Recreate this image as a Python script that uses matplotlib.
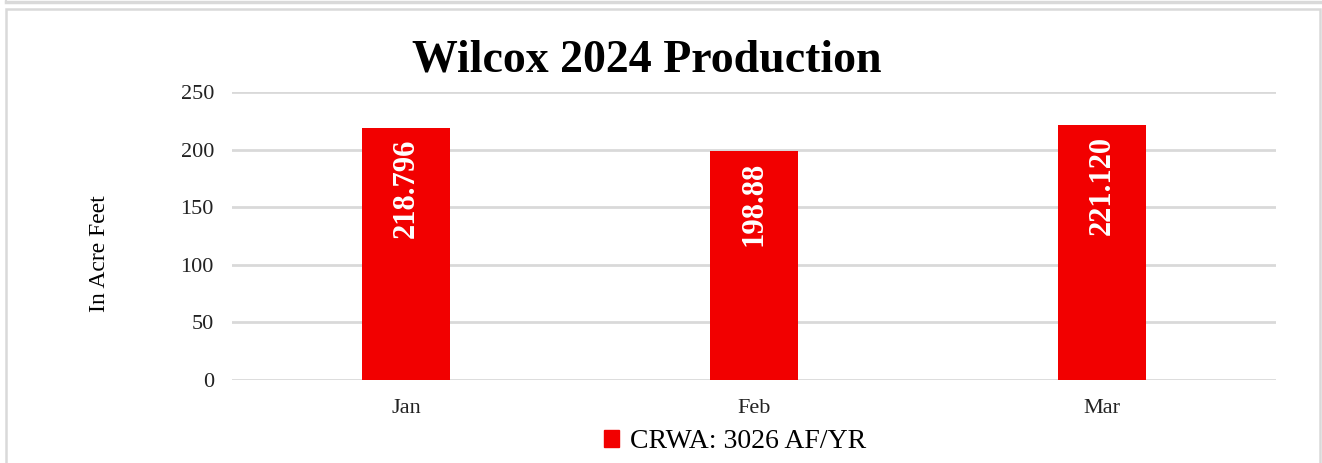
import matplotlib
matplotlib.use("Agg")
import matplotlib.pyplot as plt
from matplotlib.lines import Line2D
from matplotlib.patches import Rectangle

categories = ["Jan", "Feb", "Mar"]
values = [218.796, 198.88, 221.120]
labels = ["218.796", "198.88", "221.120"]
yticks = [0, 50, 100, 150, 200, 250]
title = "Wilcox 2024 Production"
ylabel = "In Acre Feet"
legend_label = "CRWA: 3026 AF/YR"

W, H = 1322, 463
fig = plt.figure(figsize=(W / 100, H / 100), dpi=100)
plt.rcParams['font.family'] = ['Liberation Serif', 'DejaVu Serif']

red = "#F20000"
grid = "#D9D9D9"

# frame lines
fig.add_artist(Line2D([6 / W, 1], [1 - 2 / H, 1 - 2 / H], color=grid, lw=2.5, transform=fig.transFigure))
fig.add_artist(Line2D([6 / W, 6 / W], [1, 1 - 2 / H], color=grid, lw=1.5, transform=fig.transFigure))
fig.add_artist(Rectangle((6 / W, -0.01), (1320 - 6) / W, (1 - 9 / H) + 0.01, fill=False,
                         edgecolor=grid, lw=1.8, transform=fig.transFigure))

ax = fig.add_axes([232 / W, 1 - 380 / H, (1276 - 232) / W, (380 - 92) / H])
x = range(len(categories))
bars = ax.bar(x, values, width=0.253, color=red, zorder=3)
ax.set_xlim(-0.5, 2.5)
ax.set_ylim(0, 250)
ax.set_yticks(yticks)
ax.yaxis.grid(True, color=grid, lw=2, zorder=0)
ax.set_axisbelow(True)
for s in ax.spines.values():
    s.set_visible(False)
ax.tick_params(axis='both', length=0, labelsize=16, colors='#222222')
ax.tick_params(axis='y', pad=13)
ax.tick_params(axis='x', pad=14)
ax.set_xticks(list(x))
ax.set_xticklabels(categories)
ax.set_ylabel(ylabel, fontsize=17)
ax.yaxis.set_label_coords(-0.117, 0.44)

for b, lab in zip(bars, labels):
    ax.annotate(lab, (b.get_x() + b.get_width() / 2, b.get_height()),
                xytext=(0, -8), textcoords='offset points',
                rotation=90, ha='center', va='top', color='white',
                fontsize=22, fontweight='bold', zorder=4)

fig.text(647 / W, 1 - 61 / H, title, ha='center', va='center', fontsize=33, fontweight='bold')

leg = fig.legend(handles=[Rectangle((0, 0), 1, 1, color=red)], labels=[legend_label],
                 loc='center', bbox_to_anchor=(735 / W, 1 - 442 / H), frameon=False,
                 fontsize=20, handlelength=0.55, handleheight=0.55, handletextpad=0.4)

fig.savefig("out.png", dpi=100, facecolor='white')
